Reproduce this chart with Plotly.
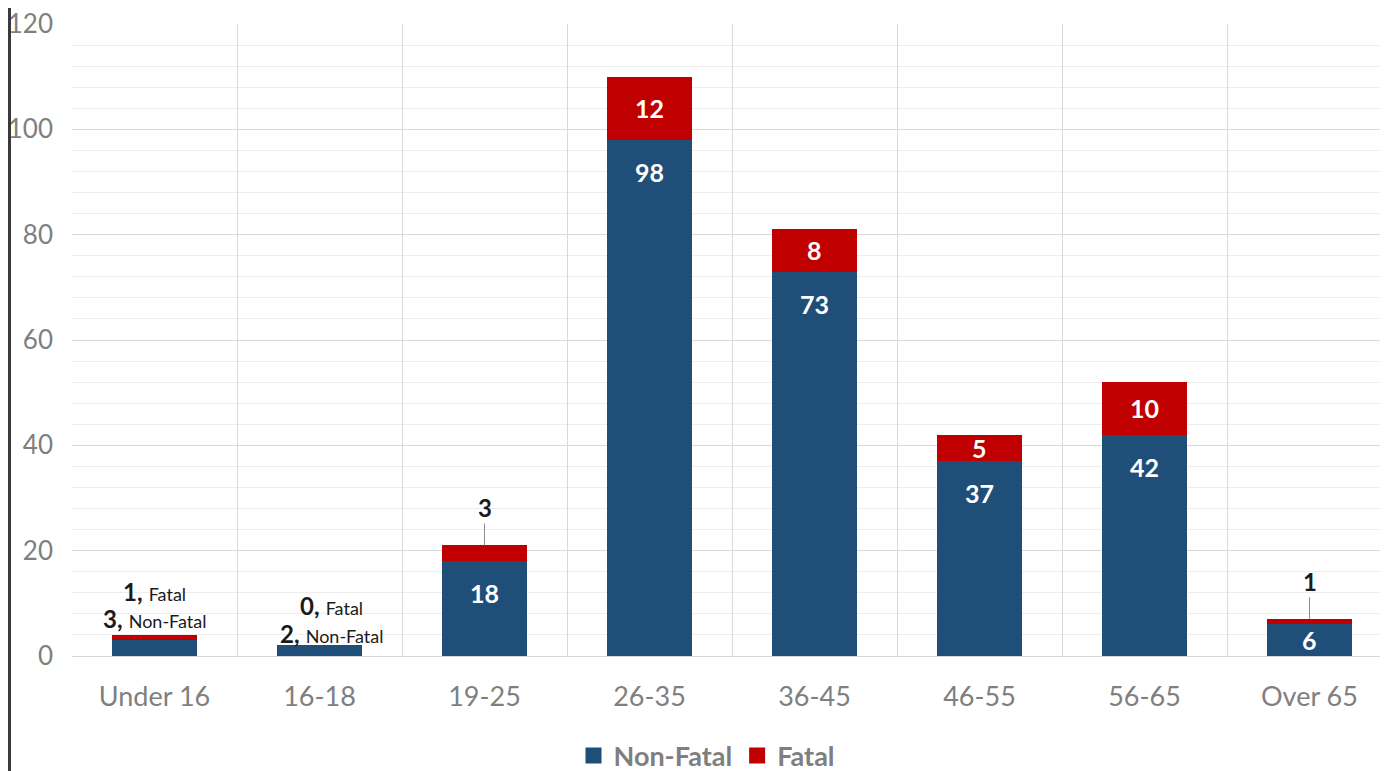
import plotly.graph_objects as go

categories = ["Under 16", "16-18", "19-25", "26-35", "36-45", "46-55", "56-65", "Over 65"]
non_fatal = [3, 2, 18, 98, 73, 37, 42, 6]
fatal = [1, 0, 3, 12, 8, 5, 10, 1]
series_names = ["Non-Fatal", "Fatal"]
y_ticks = [0, 20, 40, 60, 80, 100, 120]

BLUE = "#1F4E79"
RED = "#C00000"
FONT = "Lato"
GRAY = "#7F7F7F"

# page body has an 8px margin, so the figure is sized to the visible area
OFF = 8
W, H = 1388 - OFF, 771 - OFF
ML, MR, MT = 72 - OFF, 0, 24 - OFF
plot_bottom = 656 - OFF
MB = H - plot_bottom
plot_w = W - ML - MR
plot_h = H - MT - MB
cat_px = 165.0
x_hi = -0.5 + plot_w / cat_px

fig = go.Figure()

fig.add_trace(go.Bar(
    x=categories, y=non_fatal, name=series_names[0],
    marker=dict(color=BLUE, line=dict(width=0)), width=0.51,
    showlegend=False, hoverinfo="x+y+name",
))
fig.add_trace(go.Bar(
    x=categories, y=fatal, name=series_names[1],
    marker=dict(color=RED, line=dict(width=0)), width=0.51,
    showlegend=False, hoverinfo="x+y+name",
))
# legend swatches
for nm, col in zip(series_names, [BLUE, RED]):
    fig.add_trace(go.Scatter(
        x=[None], y=[None], mode="markers", name=nm,
        marker=dict(symbol="square", size=16, color=col),
    ))

annotations = []
lab_font = dict(family=FONT, size=25, color="white")
callout_font = dict(family=FONT, size=24, color="#1a1a1a")

for c, nf, f in zip(categories, non_fatal, fatal):
    top = nf + f
    # non-fatal labels
    if nf >= 10:
        annotations.append(dict(x=c, y=nf, text=f"<b>{nf}</b>", showarrow=False,
                                yshift=-32, font=lab_font, xref="x", yref="y"))
    elif nf >= 5:
        annotations.append(dict(x=c, y=nf / 2, text=f"<b>{nf}</b>", showarrow=False,
                                font=lab_font, xref="x", yref="y"))
    # fatal labels
    if f >= 5:
        annotations.append(dict(x=c, y=nf + f / 2, text=f"<b>{f}</b>", showarrow=False,
                                font=lab_font, xref="x", yref="y"))
    elif nf >= 5:
        annotations.append(dict(x=c, y=top, text=f"<b>{f}</b>", showarrow=True,
                                arrowhead=0, arrowwidth=1, arrowcolor="#8c8c8c",
                                ax=0, ay=-38, standoff=0, font=callout_font,
                                xref="x", yref="y"))
    else:
        # two-line callouts for very small bars
        annotations.append(dict(x=c, y=top, text=f"<b>{nf},</b> <span style='font-size:18px'>Non-Fatal</span>",
                                showarrow=True, arrowhead=0, arrowwidth=1, arrowcolor="#8c8c8c",
                                ax=0 if f > 0 else 12, ay=-16 if f > 0 else -12, standoff=0,
                                font=callout_font, xref="x", yref="y"))
        annotations.append(dict(x=c, y=top, text=f"<b>{f},</b> <span style='font-size:18px'>Fatal</span>",
                                showarrow=False, yshift=43 if f > 0 else 40, xshift=0 if f > 0 else 12,
                                font=callout_font, xref="x", yref="y"))

fig.update_layout(
    width=W, height=H,
    margin=dict(l=ML, r=MR, t=MT, b=MB, autoexpand=False),
    paper_bgcolor="white", plot_bgcolor="white",
    barmode="stack",
    font=dict(family=FONT, color=GRAY),
    xaxis=dict(
        type="category", range=[-0.5, x_hi], tickson="boundaries",
        showgrid=True, gridcolor="#D9D9D9", gridwidth=1,
        ticks="", showline=False, zeroline=False,
        tickfont=dict(family=FONT, size=27, color=GRAY),
        ticklabelstandoff=22, automargin=False, fixedrange=True,
    ),
    yaxis=dict(
        range=[0, 120], tickvals=y_ticks, showgrid=True, gridcolor="#D9D9D9", gridwidth=1,
        minor=dict(dtick=4, showgrid=True, gridcolor="#EDEDED", gridwidth=1, ticks=""),
        ticks="", showline=False, zeroline=True, zerolinecolor="#D9D9D9", zerolinewidth=1,
        tickfont=dict(family=FONT, size=26, color=GRAY),
        ticklabelstandoff=18, ticklabeloverflow="allow",
        automargin=False, fixedrange=True,
    ),
    legend=dict(
        orientation="h", x=(707 - OFF - ML) / plot_w, xanchor="center",
        y=(plot_bottom - (756 - OFF)) / plot_h, yanchor="middle",
        font=dict(family=FONT, size=27, color=GRAY, weight="bold"),
        itemwidth=30, traceorder="normal", tracegroupgap=0, bgcolor="rgba(0,0,0,0)",
    ),
    annotations=annotations,
    shapes=[dict(type="line", xref="paper", yref="paper",
                 x0=-(ML - 1.5) / plot_w, x1=-(ML - 1.5) / plot_w,
                 y0=-MB / plot_h, y1=1 + MT / plot_h,
                 line=dict(color="#3A3A3A", width=3))],
)

fig.write_html("out.html")
